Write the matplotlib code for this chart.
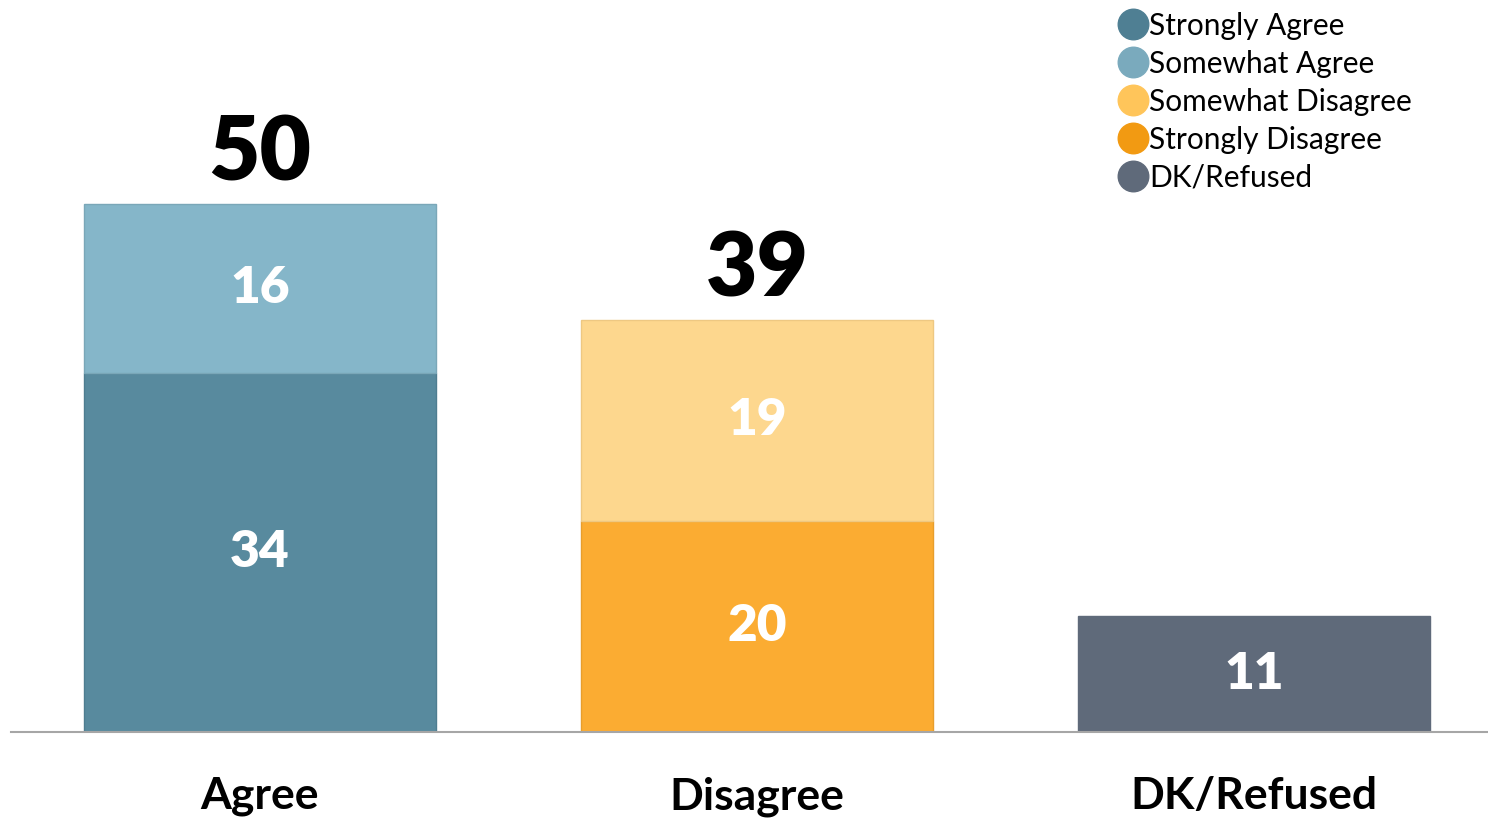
import matplotlib.pyplot as plt
from matplotlib.lines import Line2D

# data
categories = ['Agree', 'Disagree', 'DK/Refused']
strongly_agree = [34, 0, 0]
somewhat_agree = [16, 0, 0]
strongly_disagree = [0, 20, 0]
somewhat_disagree = [0, 19, 0]
dk_refused = [0, 0, 11]
totals = [50, 39, None]

legend_names = ['Strongly Agree', 'Somewhat Agree', 'Somewhat Disagree',
                'Strongly Disagree', 'DK/Refused']
legend_colors = ['#4F7F93', '#7AAABD', '#FFC55A', '#F29A12', '#5F6A7A']

plt.rcParams['font.family'] = ['Lato', 'DejaVu Sans']

fig = plt.figure(figsize=(14.88, 8.19), dpi=100)
ax = fig.add_axes([11 / 1488, 1 - 732 / 819, 1 - 11 / 1488, 732 / 819])

x = range(len(categories))
w = 0.708

def draw(vals, bottom, color, edge):
    for i, v in enumerate(vals):
        if v:
            ax.bar(i, v, w, bottom=bottom[i], color=color, edgecolor=edge, linewidth=1)
            ax.text(i, bottom[i] + v / 2, str(v), ha='center', va='center',
                    color='white', fontsize=37, fontweight='heavy')
    return [b0 + v for b0, v in zip(bottom, vals)]

base = [0, 0, 0]
base = draw(strongly_agree, base, '#588A9E', '#4E7D90')
base = draw(somewhat_agree, base, '#85B6C9', '#7AA7B8')
base2 = [0, 0, 0]
base2 = draw(strongly_disagree, base2, '#FBAC32', '#E89E2C')
base2 = draw(somewhat_disagree, base2, '#FDD78E', '#EEC882')
base3 = [0, 0, 0]
base3 = draw(dk_refused, base3, '#5F6A7A', '#5F6A7A')

for i, t in enumerate(totals):
    if t is not None:
        ax.annotate(str(t), (i, t), xytext=(0, 6), textcoords='offset points',
                    ha='center', va='bottom', fontsize=64, fontweight='heavy', color='black')

ax.set_xlim(-0.501, 2.471)
ax.set_ylim(0, 69.3)
ax.set_yticks([])
ax.set_xticks(list(x))
ax.set_xticklabels(categories, fontsize=32, fontweight='bold')
ax.tick_params(axis='x', length=0, pad=32)
for s in ['top', 'right', 'left']:
    ax.spines[s].set_visible(False)
ax.spines['bottom'].set_color('#A6A6A6')
ax.spines['bottom'].set_linewidth(1.5)

handles = [Line2D([], [], marker='o', linestyle='', markersize=22,
                  markerfacecolor=c, markeredgecolor=c) for c in legend_colors]
fig.legend(handles, legend_names, loc='upper left', bbox_to_anchor=(1108 / 1488, 1.0),
           frameon=False, fontsize=21.5, handlelength=0.9, handletextpad=0.08,
           labelspacing=0.33, borderaxespad=0)

fig.savefig('out.png', dpi=100)
